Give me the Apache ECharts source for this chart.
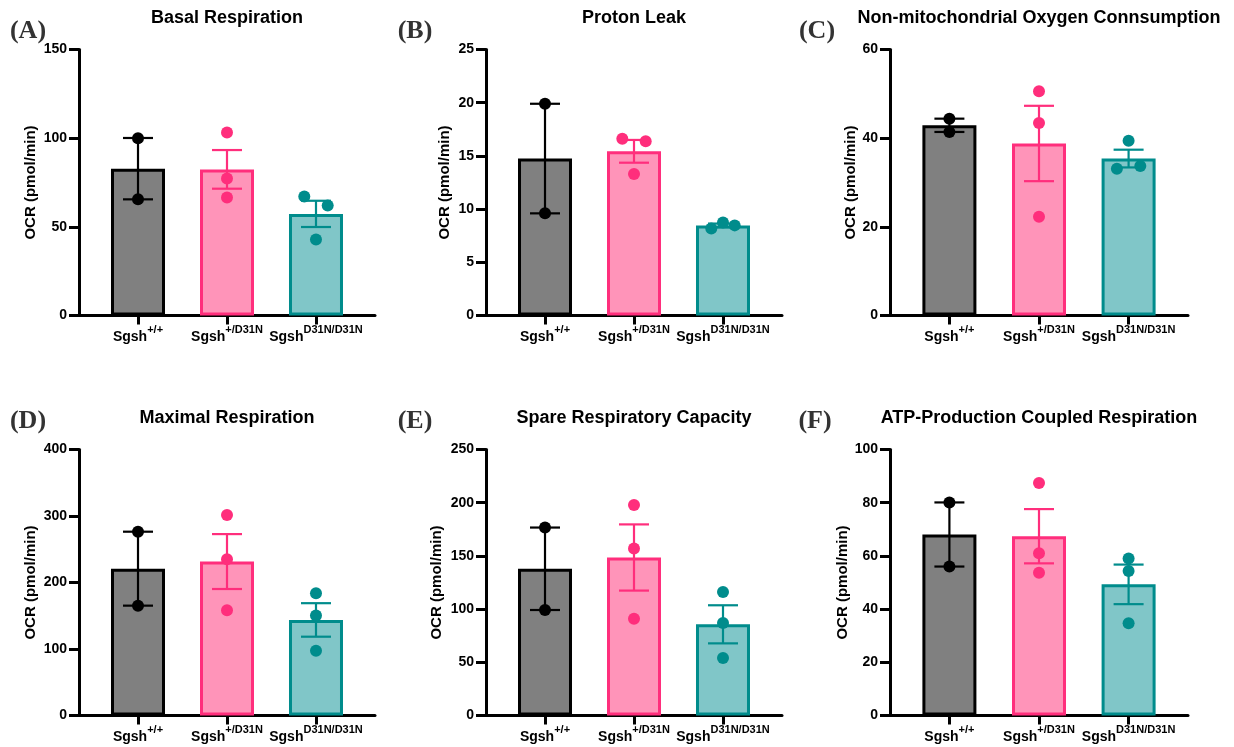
<!DOCTYPE html>
<html>
<head>
<meta charset="utf-8">
<script src="https://cdn.jsdelivr.net/npm/echarts@6/dist/echarts.min.js"></script>
<style>
  html, body { margin: 0; padding: 0; background: #fff; }
  #chart { width: 1234px; height: 747px; }
</style>
</head>
<body>
<div id="chart"></div>
<script>
// ---- data -------------------------------------------------------------
const genotypes = ['+/+', '+/D31N', 'D31N/D31N'];
const panelLetters = ['(A)', '(B)', '(C)', '(D)', '(E)', '(F)'];
const panelTitles = [
  'Basal Respiration',
  'Proton Leak',
  'Non-mitochondrial Oxygen Connsumption',
  'Maximal Respiration',
  'Spare Respiratory Capacity',
  'ATP-Production Coupled Respiration'
];
const yAxisName = 'OCR (pmol/min)';
const yAxisMax = [150, 25, 60, 400, 250, 100];
const yAxisStep = [50, 5, 20, 100, 50, 20];

// individual wells per genotype, mean and SEM per genotype
const basalPoints = [[100.0, 65.5], [103.2, 77.3, 66.6], [67.1, 62.0, 42.9]];
const basalMean = [82.8, 82.4, 57.3];
const basalSem = [17.3, 10.9, 7.4];

const leakPoints = [[19.9, 9.6], [16.62, 16.37, 13.3], [8.18, 8.75, 8.47]];
const leakMean = [14.75, 15.43, 8.47];
const leakSem = [5.15, 1.07, 0.17];

const nonMitoPoints = [[44.4, 41.4], [50.6, 43.4, 22.3], [39.4, 33.1, 33.7]];
const nonMitoMean = [42.9, 38.8, 35.4];
const nonMitoSem = [1.5, 8.5, 2.0];

const maximalPoints = [[276.4, 165.2], [301.4, 234.9, 158.3], [183.8, 150.2, 97.2]];
const maximalMean = [220.8, 231.5, 143.7];
const maximalSem = [55.6, 41.3, 25.2];

const sparePoints = [[176.6, 99.1], [197.8, 156.9, 90.9], [116.0, 86.9, 54.1]];
const spareMean = [137.9, 148.5, 85.7];
const spareSem = [38.75, 31.1, 17.9];

const atpPoints = [[80.1, 56.0], [87.4, 61.0, 53.7], [59.0, 54.3, 34.7]];
const atpMean = [68.05, 67.4, 49.3];
const atpSem = [12.05, 10.2, 7.44];

// ---- layout & styles ----------------------------------------------------
const panels = [
  { points: basalPoints, mean: basalMean, sem: basalSem },
  { points: leakPoints, mean: leakMean, sem: leakSem },
  { points: nonMitoPoints, mean: nonMitoMean, sem: nonMitoSem },
  { points: maximalPoints, mean: maximalMean, sem: maximalSem },
  { points: sparePoints, mean: spareMean, sem: spareSem },
  { points: atpPoints, mean: atpMean, sem: atpSem }
];
const gridBoxes = [
  { left: 79, top: 49.5, width: 296, height: 266 },
  { left: 486, top: 49.5, width: 296, height: 266 },
  { left: 890, top: 49.5, width: 298, height: 266 },
  { left: 79, top: 449.5, width: 296, height: 266 },
  { left: 486, top: 449.5, width: 296, height: 266 },
  { left: 890, top: 449.5, width: 298, height: 266 }
];
const nameGaps = [41, 34, 31, 41, 42, 39];
const letterPos = [[28, 31], [415, 31], [817, 31], [28, 421], [415, 421], [815, 421]];
const titleY = [18, 18, 18, 418, 418, 418];

const fillColors = ['#808080', '#FF94B9', '#80C6C8'];
const strokeColors = ['#000000', '#FF2E7C', '#008C8C'];
const SANS = '"Liberation Sans", Arial, Helvetica, sans-serif';
const SERIF = '"Liberation Serif", "Times New Roman", serif';
const DOT_R = 6;
const DODGE = 11.7;
const CAP_HALF = 15;

// ---- renderers ----------------------------------------------------------
function renderErrorBar(params, api) {
  const g = api.value(0);
  const lo = api.coord([g, api.value(1)]);
  const hi = api.coord([g, api.value(2)]);
  const style = { stroke: strokeColors[g], lineWidth: 2.2 };
  return {
    type: 'group',
    children: [
      { type: 'line', shape: { x1: lo[0], y1: lo[1], x2: hi[0], y2: hi[1] }, style },
      { type: 'line', shape: { x1: hi[0] - CAP_HALF, y1: hi[1], x2: hi[0] + CAP_HALF, y2: hi[1] }, style },
      { type: 'line', shape: { x1: lo[0] - CAP_HALF, y1: lo[1], x2: lo[0] + CAP_HALF, y2: lo[1] }, style }
    ]
  };
}

// points of a genotype that would overlap are spread sideways, in data order
function makePointRenderer(groups) {
  return function (params, api) {
    const g = api.value(0);
    const k = api.value(2);
    const vals = groups[g];
    const ys = vals.map(v => api.coord([g, v])[1]);
    // find the cluster that contains point k
    const inCluster = new Array(vals.length).fill(false);
    inCluster[k] = true;
    let grew = true;
    while (grew) {
      grew = false;
      for (let i = 0; i < vals.length; i++) {
        if (inCluster[i]) continue;
        for (let j = 0; j < vals.length; j++) {
          if (inCluster[j] && Math.abs(ys[i] - ys[j]) < 2 * DOT_R - 0.5) {
            inCluster[i] = true; grew = true; break;
          }
        }
      }
    }
    const members = [];
    inCluster.forEach((f, i) => { if (f) members.push(i); });
    const pos = members.indexOf(k);
    let dx = 0;
    if (members.length === 2) dx = pos === 0 ? -DODGE : DODGE;
    else if (members.length >= 3) dx = (pos - (members.length - 1) / 2) * DODGE;
    const c = api.coord([g, vals[k]]);
    return {
      type: 'circle',
      shape: { cx: c[0] + dx, cy: c[1], r: DOT_R },
      style: { fill: strokeColors[g] }
    };
  };
}

// ---- option -------------------------------------------------------------
const grid = [], xAxis = [], yAxis = [], series = [], graphic = [];

panels.forEach((p, i) => {
  const box = gridBoxes[i];
  grid.push(Object.assign({ containLabel: false }, box));

  xAxis.push({
    gridIndex: i,
    type: 'value',
    min: -0.663,
    max: 2.663,
    splitLine: { show: false },
    axisLine: { show: true, onZero: false, lineStyle: { color: '#000', width: 3 } },
    axisTick: { show: true, customValues: [0, 1, 2], length: 9, lineStyle: { color: '#000', width: 3 } },
    axisLabel: {
      customValues: [0, 1, 2],
      margin: 9,
      formatter: v => '{b|Sgsh}{s|' + genotypes[Math.round(v)] + '}',
      rich: {
        b: { fontFamily: SANS, fontWeight: 'bold', fontSize: 14, color: '#000', lineHeight: 20, verticalAlign: 'bottom' },
        s: { fontFamily: SANS, fontWeight: 'bold', fontSize: 11, color: '#000', lineHeight: 11, verticalAlign: 'top' }
      }
    }
  });

  yAxis.push({
    gridIndex: i,
    type: 'value',
    min: 0,
    max: yAxisMax[i],
    interval: yAxisStep[i],
    splitLine: { show: false },
    axisLine: { show: true, onZero: false, lineStyle: { color: '#000', width: 3 } },
    axisTick: { show: true, length: 10, lineStyle: { color: '#000', width: 3 } },
    axisLabel: { fontFamily: SANS, fontWeight: 'bold', fontSize: 14, color: '#000', margin: 12 },
    name: yAxisName,
    nameLocation: 'middle',
    nameGap: nameGaps[i],
    nameTextStyle: { fontFamily: SANS, fontWeight: 'bold', fontSize: 15, color: '#000' }
  });

  series.push({
    type: 'bar',
    xAxisIndex: i,
    yAxisIndex: i,
    barWidth: 54,
    z: 2,
    animation: false,
    data: p.mean.map((m, g) => ({
      value: [g, m],
      itemStyle: { color: fillColors[g], borderColor: strokeColors[g], borderWidth: 3 }
    }))
  });

  series.push({
    type: 'custom',
    xAxisIndex: i,
    yAxisIndex: i,
    z: 3,
    animation: false,
    renderItem: renderErrorBar,
    data: p.mean.map((m, g) => [g, m - p.sem[g], m + p.sem[g]])
  });

  const pts = [];
  p.points.forEach((vals, g) => vals.forEach((v, k) => pts.push([g, v, k])));
  series.push({
    type: 'custom',
    xAxisIndex: i,
    yAxisIndex: i,
    z: 4,
    animation: false,
    renderItem: makePointRenderer(p.points),
    data: pts
  });

  graphic.push({
    type: 'text',
    x: box.left + box.width / 2,
    y: titleY[i],
    style: {
      text: panelTitles[i],
      font: 'bold 18px ' + SANS,
      fill: '#000',
      textAlign: 'center',
      textVerticalAlign: 'middle'
    }
  });
  graphic.push({
    type: 'text',
    x: letterPos[i][0],
    y: letterPos[i][1],
    style: {
      text: panelLetters[i],
      font: 'bold 26px ' + SERIF,
      fill: '#333',
      textAlign: 'center',
      textVerticalAlign: 'middle'
    }
  });
});

const chart = echarts.init(document.getElementById('chart'), null, { renderer: 'canvas' });
chart.setOption({
  backgroundColor: '#fff',
  animation: false,
  grid, xAxis, yAxis, series, graphic
});
</script>
</body>
</html>
